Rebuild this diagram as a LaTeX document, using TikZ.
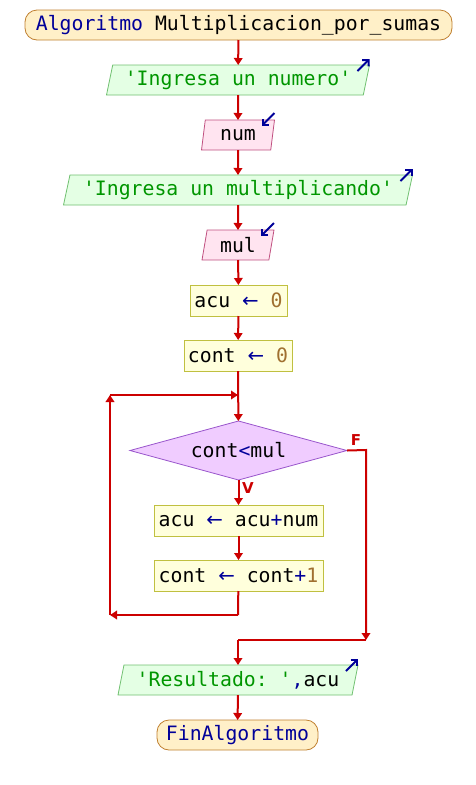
\documentclass[tikz,border=0pt]{standalone}
\usepackage{fontspec}
\setmonofont{DejaVu Sans Mono}
\setsansfont{DejaVu Sans}
\newfontfamily\flechafont{DejaVu Sans}
\usetikzlibrary{calc,shapes.geometric,arrows.meta}

\definecolor{rojo}{RGB}{204,0,0}
\definecolor{azul}{RGB}{0,0,153}
\definecolor{verde}{RGB}{0,150,0}
\definecolor{cafe}{RGB}{160,112,48}
\definecolor{inifill}{RGB}{255,240,200}
\definecolor{iniborde}{RGB}{192,128,48}
\definecolor{salfill}{RGB}{228,255,228}
\definecolor{salborde}{RGB}{112,192,112}
\definecolor{entfill}{RGB}{255,228,240}
\definecolor{entborde}{RGB}{192,80,128}
\definecolor{procfill}{RGB}{255,255,220}
\definecolor{procborde}{RGB}{192,192,64}
\definecolor{condfill}{RGB}{240,204,255}
\definecolor{condborde}{RGB}{153,85,204}

\tikzset{
  flecha/.style={draw=rojo, line width=2pt, -{Triangle[length=7pt,width=8.5pt]}},
  linea/.style={draw=rojo, line width=2pt},
  base/.style={font=\ttfamily\fontsize{19.8}{19.8}\selectfont, inner sep=0pt, outer sep=0pt, line width=0.8pt},
  extremo/.style={base, rectangle, rounded corners=12pt, minimum height=30pt, fill=inifill, draw=iniborde},
  salida/.style={base, trapezium, trapezium left angle=71.6, trapezium right angle=108.4,
    trapezium stretches body, minimum height=30pt, fill=salfill, draw=salborde, text=verde},
  entrada/.style={base, trapezium, trapezium left angle=71.6, trapezium right angle=108.4,
    trapezium stretches body, minimum height=30pt, fill=entfill, draw=entborde},
  proceso/.style={base, rectangle, minimum height=31pt, fill=procfill, draw=procborde},
  decision/.style={base, diamond, aspect=3.7, minimum width=217pt, minimum height=59pt,
    fill=condfill, draw=condborde},
  icono/.style={draw=azul, line width=2pt, -{Straight Barb[length=4.5pt,width=9pt]}},
  etiq/.style={text=rojo, font=\sffamily\bfseries\fontsize{15}{15}\selectfont, inner sep=0pt}
}

\newcommand{\asig}{{\color{azul}\flechafont ←}}

\begin{document}
\begin{tikzpicture}[x=1pt, y=-1pt]
  \useasboundingbox (0,0) rectangle (476,785);

  % nodos
  \node[extremo, minimum width=427pt] (inicio) at (238.5,25)
    {{\color{azul}Algoritmo} Multiplicacion\_por\_sumas};
  \node[salida, minimum width=263pt] (sal1) at (238,80) {'Ingresa un numero'};
  \node[entrada, minimum width=73pt] (ent1) at (238,135) {num};
  \node[salida, minimum width=349pt] (sal2) at (238,190) {'Ingresa un multiplicando'};
  \node[entrada, minimum width=72pt] (ent2) at (238,245) {mul};
  \node[proceso, minimum width=97pt] (asig1) at (238.5,300.5) {acu \asig{} {\color{cafe}0}};
  \node[proceso, minimum width=108pt] (asig2) at (238,355.5) {cont \asig{} {\color{cafe}0}};
  \node[decision] (cond) at (238.5,450.5) {cont{\color{azul}<}mul};
  \node[proceso, minimum width=169pt] (asig3) at (238.5,520.5)
    {acu \asig{} acu{\color{azul}+}num};
  \node[proceso, minimum width=169pt] (asig4) at (238.5,575.5)
    {cont \asig{} cont{\color{azul}+}{\color{cafe}1}};
  \node[salida, minimum width=240pt] (sal3) at (238,680)
    {'Resultado: '{\color{azul},}{\color{black}acu}};
  \node[extremo, minimum width=161pt] (fin) at (237.5,735) {{\color{azul}FinAlgoritmo}};

  \node[etiq] (lv) at (248,488) {V};
  \node[etiq] (lf) at (356,440) {F};

  \coordinate (junta) at (238,395);
  \coordinate (r1) at (238,615);
  \coordinate (r2) at (110,615);
  \coordinate (r3) at (110,395);
  \coordinate (f1) at (366,450);
  \coordinate (f2) at (366,640);
  \coordinate (union) at (238,640);

  % iconos de lectura y escritura
  \foreach \n in {sal1, sal2, sal3}
    \draw[icono] ($(\n.top right corner)+(-12,6)$) -- ($(\n.top right corner)+(0,-6)$);
  \foreach \n in {ent1, ent2}
    \draw[icono] ($(\n.top right corner)+(0,-7)$) -- ($(\n.top right corner)+(-13,6)$);

  % conectores
  \draw[flecha] (inicio) -- (sal1);
  \draw[flecha] (sal1) -- (ent1);
  \draw[flecha] (ent1) -- (sal2);
  \draw[flecha] (sal2) -- (ent2);
  \draw[flecha] (ent2) -- (asig1);
  \draw[flecha] (asig1) -- (asig2);
  \draw[flecha] (asig2) -- (cond);
  \draw[flecha] (cond) -- (asig3);
  \draw[flecha] (asig3) -- (asig4);
  \draw[linea] (asig4) -- (r1);
  \draw[flecha] (r1) -- (r2);
  \draw[flecha] (r2) -- (r3);
  \draw[flecha] (r3) -- (junta);
  \draw[flecha] (cond.east) -- (f1) -- (f2);
  \draw[linea] (f2) -- (union);
  \draw[flecha] (union) -- (sal3);
  \draw[flecha] (sal3) -- (fin);
\end{tikzpicture}
\end{document}
